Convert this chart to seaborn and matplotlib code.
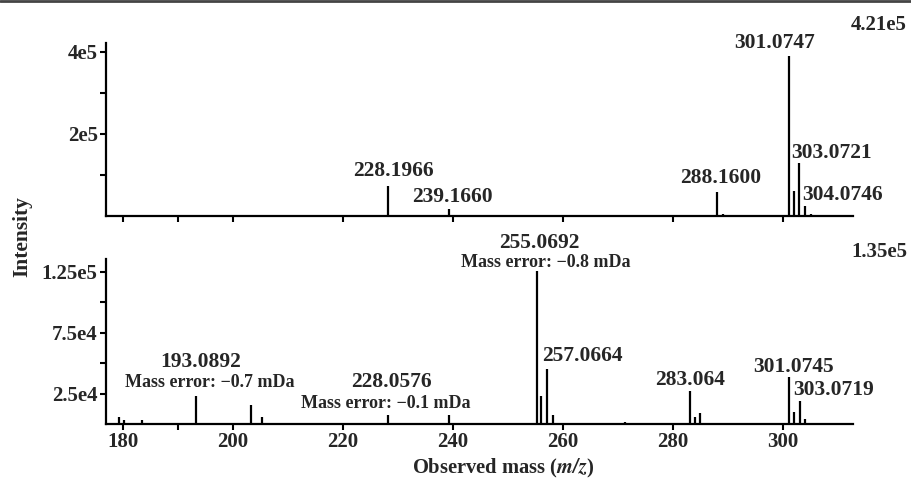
import matplotlib
matplotlib.use("Agg")
import matplotlib.pyplot as plt
import seaborn as sns

# top spectrum
top_mz = [228.2, 239.2, 258.2, 288.0, 289.1, 301.1, 302.0, 302.9, 304.0, 305.0]
top_int = [7.3e4, 1.7e4, 3e3, 5.9e4, 6e3, 3.9e5, 6.1e4, 1.29e5, 2.4e4, 5e3]
top_labels = ["228.1966", "239.1660", "", "288.1600", "", "301.0747", "", "303.0721", "304.0746", ""]
top_max = "4.21e5"

# bottom spectrum
bot_mz = [179.3, 180.2, 183.4, 193.3, 203.3, 205.3, 228.1, 239.3, 255.2, 256.0, 257.0,
          258.1, 271.3, 283.0, 284.0, 284.9, 301.1, 302.0, 303.0, 304.0, 305.0]
bot_int = [6e3, 3.5e3, 3.5e3, 2.34e4, 1.54e4, 6e3, 7e3, 7e3, 1.26e5, 2.34e4, 4.5e4,
           7e3, 2e3, 2.75e4, 6e3, 9.4e3, 3.87e4, 1e4, 1.87e4, 4.5e3, 1e3]
bot_labels = ["", "", "", "193.0892", "", "", "228.0576", "", "255.0692", "", "257.0664",
              "", "", "283.064", "", "", "301.0745", "", "303.0719", "", ""]
bot_errors = ["", "", "", "\u22120.7", "", "", "\u22120.1", "", "\u22120.8", "", "",
              "", "", "", "", "", "", "", "", "", ""]
bot_max = "1.35e5"

# label offsets in pixels (dx, dy) from peak top
top_off = {"228.1966": (5, 15), "239.1660": (4, 12), "288.1600": (4, 14),
           "301.0747": (-15, 13), "303.0721": (32, 10), "304.0746": (37, 11)}
bot_off = {"193.0892": (4, 34), "228.0576": (4, 33), "255.0692": (3, 28),
           "257.0664": (36, 13), "283.064": (0, 11), "301.0745": (4, 10), "303.0719": (34, 11)}
err_off = {"193.0892": (14, 13), "228.0576": (-2, 12), "255.0692": (9, 8)}

sns.set_style("ticks")
plt.rcParams["font.family"] = ["Liberation Serif", "DejaVu Serif"]
plt.rcParams["font.weight"] = "bold"
plt.rcParams["mathtext.fontset"] = "stix"

W, H = 912, 479
fig = plt.figure(figsize=(W / 100, H / 100), dpi=100)
ax1 = fig.add_axes([106 / W, 1 - 216 / H, 747 / W, 173 / H])
ax2 = fig.add_axes([106 / W, 1 - 424 / H, 747 / W, 165 / H])

xlim = (176.9, 312.7)
for ax in (ax1, ax2):
    ax.set_xlim(*xlim)
    sns.despine(ax=ax)
    for s in ("left", "bottom"):
        ax.spines[s].set_linewidth(1.6)
        ax.spines[s].set_color("black")
    ax.set_xticks([180, 200, 220, 240, 260, 280, 300])
    ax.set_xticks([190], minor=True)
    ax.tick_params(which="both", direction="out", length=4, width=1.5, color="black",
                   labelsize=15, pad=2)

ax1.vlines(top_mz, 0, top_int, colors="black", linewidth=1.6)
ax1.set_ylim(0, 4.21e5)
ax1.set_yticks([1e5, 2e5, 3e5, 4e5])
ax1.set_yticklabels(["", "2e5", "", "4e5"])
ax1.set_xticklabels([])
for x, y, lab in zip(top_mz, top_int, top_labels):
    if lab:
        ax1.annotate(lab, (x, y), xytext=top_off[lab], textcoords="offset pixels",
                     ha="center", va="center", fontsize=15.5, fontweight="bold")

ax2.vlines(bot_mz, 0, bot_int, colors="black", linewidth=1.6)
ax2.set_ylim(0, 1.356e5)
ax2.set_yticks([2.5e4, 5e4, 7.5e4, 1e5, 1.25e5])
ax2.set_yticklabels(["2.5e4", "", "7.5e4", "", "1.25e5"])
for x, y, lab, err in zip(bot_mz, bot_int, bot_labels, bot_errors):
    if lab:
        ax2.annotate(lab, (x, y), xytext=bot_off[lab], textcoords="offset pixels",
                     ha="center", va="center", fontsize=15.5, fontweight="bold")
    if err:
        ax2.annotate(f"Mass error: {err} mDa", (x, y), xytext=err_off[lab],
                     textcoords="offset pixels", ha="center", va="center",
                     fontsize=13, fontweight="bold")

fig.text(879 / W, 1 - 25 / H, top_max, ha="center", va="center", fontsize=15, fontweight="bold")
fig.text(879 / W, 1 - 252 / H, bot_max, ha="center", va="center", fontsize=15, fontweight="bold")
fig.text(22 / W, 1 - 237 / H, "Intensity", rotation=90, ha="center", va="center",
         fontsize=15.5, fontweight="bold")
fig.text(503 / W, 1 - 468 / H, "Observed mass ($\\bfit{m/z}$)", ha="center", va="center",
         fontsize=14.8, fontweight="bold")
fig.add_artist(plt.Line2D([0, 1], [1 - 1 / H, 1 - 1 / H], color="#444444", linewidth=2))

fig.savefig("out.png", dpi=100)
